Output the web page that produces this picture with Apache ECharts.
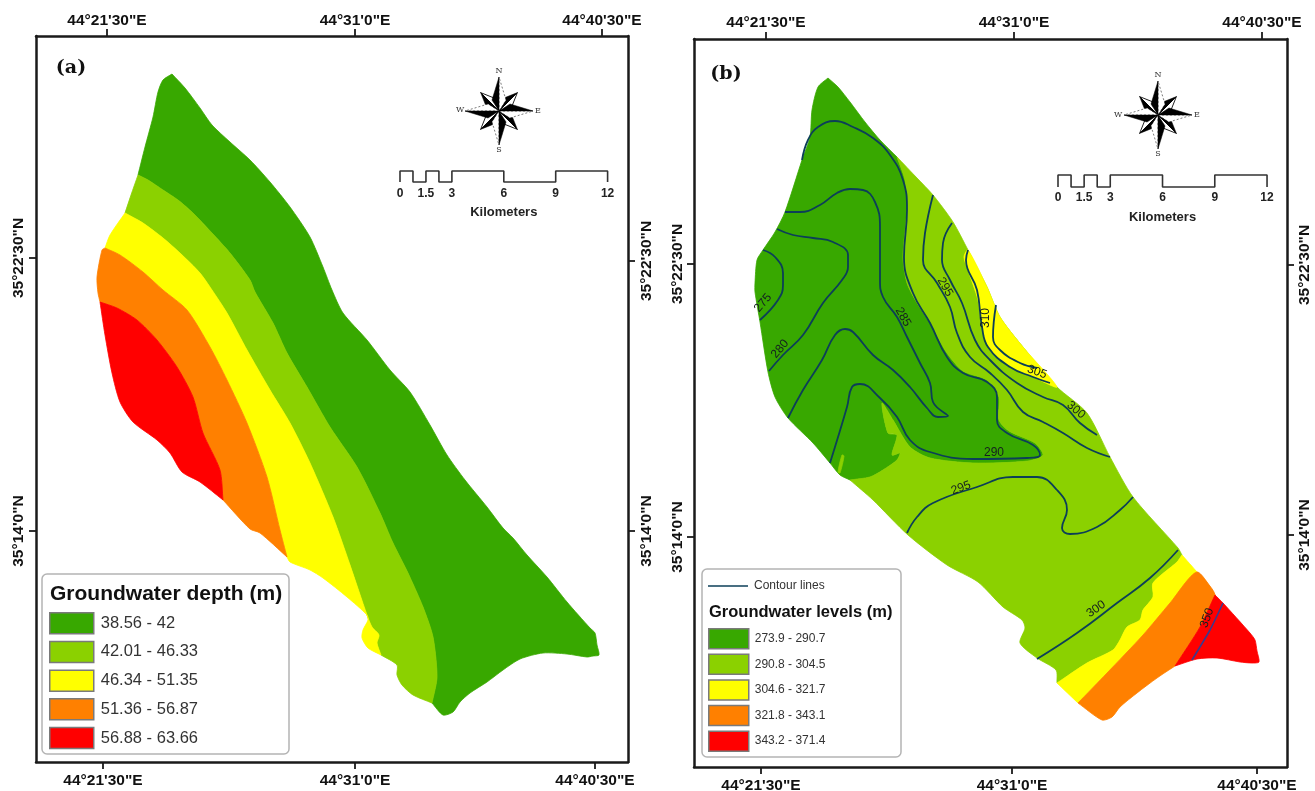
<!DOCTYPE html>
<html><head><meta charset="utf-8">
<style>html,body{margin:0;padding:0;background:#fff}#c{width:1315px;height:791px}</style>
<script src="https://cdn.jsdelivr.net/npm/echarts@6/dist/echarts.min.js"></script>
</head><body><div id="c"></div>
<script>
// Map units: one unit = one sheet unit of the printed map; axes carry the graticule labels.
const classColors = ['#38A800','#8BD100','#FFFF00','#FF8000','#FF0000'];
const depthClasses = ['38.56 - 42','42.01 - 46.33','46.34 - 51.35','51.36 - 56.87','56.88 - 63.66'];
const levelClasses = ['273.9 - 290.7','290.8 - 304.5','304.6 - 321.7','321.8 - 343.1','343.2 - 371.4'];
const lonLabels = ['44°21\'30"E','44°31\'0"E','44°40\'30"E'];
const latLabels = ['35°22\'30"N','35°14\'0"N'];
const scaleLabels = ['0','1.5','3','6','9','12'];
const scaleLabelKm = [0,1.5,3,6,9,12];
const scaleBarKm = [0,0,0.75,0.75,1.5,1.5,2.25,2.25,3,3,6,6,9,9,12,12];
const scaleBarUp = [0,1,1,0,0,1,1,0,0,1,1,0,0,1,1,0];

// Panel (a) graticule ticks
const aLonTop = [107,355,602], aLonBottom = [103,355,595], aLatLeft = [258,531], aLatRight = [261,531];
// Panel (b) graticule ticks
const bLonTop = [766,1014,1262], bLonBottom = [761,1012,1257], bLatLeft = [264,537], bLatRight = [265,535];

// Panel (a): study-area rim
const aRimNE = [[172,74],[185,88],[200,108],[212,125],[230,142],[250,160],[270,182],[290,207],[310,237],[323,267],[332,290],[343,313],[367,340],[390,370],[410,392],[430,425],[447,455],[465,480],[487,507],[503,528],[513,538],[527,555],[547,577],[567,602],[590,628],[595,633],[597,645],[599,655],[593,656],[587,657],[567,654],[543,653],[520,659],[503,670],[487,682],[470,693],[460,702],[453,712],[443,715],[432,703]];
const aRimNW = [[138,175],[145,147],[153,117],[158,92],[163,80],[172,74]];
const aRimLightS = [[432,703],[413,695],[402,685],[397,675],[397,665],[381,655]];
const aRimYellowS = [[381,655],[368,648],[362,638],[363,630],[368,620],[367,615],[347,597],[323,578],[310,570],[290,562],[287,557]];
const aRimOrangeS = [[287,557],[260,533],[250,529],[223,500]];
const aRimRedS = [[223,500],[200,482],[182,472],[170,453],[157,440],[133,422],[120,402],[112,373],[105,335],[100,302]];
const aRimOrangeW = [[100,302],[98,293],[97,277],[102,250],[105,248]];
const aRimYellowW = [[105,248],[110,235],[125,213]];
const aRimLightW = [[125,213],[131,195],[138,175]];
// Panel (a): class boundaries
const aEdgeDarkLight = [[138,175],[148,180],[163,190],[178,200],[193,213],[212,233],[230,253],[250,280],[255,292],[273,323],[287,353],[307,387],[330,427],[357,467],[380,513],[393,543],[408,573],[423,607],[433,637],[437,677],[432,703]];
const aEdgeLightYellow = [[125,213],[143,223],[163,238],[180,253],[200,273],[212,290],[227,313],[247,350],[270,390],[290,423],[310,463],[333,517],[350,565],[367,615],[372,627],[379,635],[377,643],[381,655]];
const aEdgeYellowOrange = [[105,248],[120,255],[143,272],[163,290],[187,310],[210,347],[227,380],[247,423],[267,477],[280,530],[287,557]];
const aEdgeOrangeRed = [[100,302],[117,308],[137,320],[157,340],[177,367],[193,397],[203,433],[220,470],[223,500]];

// Panel (b): study-area rim
const bRimNE = [[828,78],[838,87],[850,102],[865,122],[880,140],[897,157]];
const bRimLightE = [[897,157],[917,178],[933,195],[953,222],[968,250],[987,287],[1000,317],[1023,347],[1057,387],[1087,413],[1110,457],[1133,497],[1178,548],[1182,555]];
const bRimYellowE = [[1182,555],[1197,572]];
const bRimOrangeE = [[1197,572],[1215,595]];
const bRimRed = [[1215,595],[1223,603],[1250,633],[1255,640],[1257,651],[1259,662],[1252,663],[1240,662],[1217,658],[1197,659],[1175,666]];
const bRimOrangeS = [[1175,666],[1157,678],[1137,693],[1120,707],[1112,717],[1102,720],[1078,703]];
const bRimYellowS = [[1078,703],[1057,683]];
const bRimLightS = [[1057,683],[1056,670],[1037,658],[1020,643],[1025,628],[1022,620],[1003,607],[978,582],[947,565],[908,535],[873,500],[850,480]];
const bRimW = [[850,480],[840,475],[830,463],[813,443],[788,418],[775,397],[768,372],[760,322],[755,292],[755,283],[757,260],[763,250],[775,232],[785,212],[802,160],[810,137],[812,110],[818,87],[828,78]];
// Panel (b): class boundaries
const bEdgeDarkLight = [[897,157],[905,180],[907,210],[903,257],[907,283],[917,303],[930,323],[947,353],[963,371],[987,380],[999,397],[999,420],[1009,431],[1035,443],[1043,455],[1028,461],[973,463],[930,458],[910,447],[893,420],[882,403],[888,433],[897,435],[892,455],[900,453],[897,460],[883,470],[870,477],[850,480]];
const bEdgeLightYellow = [[1182,555],[1177,562],[1153,583],[1153,597],[1143,610],[1140,620],[1127,627],[1120,640],[1113,650],[1087,663],[1057,683]];
const bEdgeYellowOrange = [[1197,572],[1170,603],[1143,635],[1107,673],[1078,703]];
const bEdgeOrangeRed = [[1215,595],[1200,627],[1175,666]];
const bYellowPatch = [[968,250],[964,257],[968,270],[978,300],[982,327],[990,350],[1010,367],[1033,377],[1057,387],[1023,347],[1000,317],[987,287]];
const bLightSliver = [[842,455],[844,456],[840,473],[838,472]];

// Panel (b): contour lines
const contour275 = [[763,250],[775,257],[783,273],[783,285],[778,300],[760,320]];
const contour280 = [[777,229],[793,235],[813,238],[833,242],[848,255],[848,267],[842,280],[823,303],[803,335],[783,355],[769,371]];
const contour285 = [[785,212],[800,212],[820,205],[837,193],[850,189],[863,190],[875,202],[880,227],[880,257],[880,280],[883,297],[897,317],[907,337],[920,363],[930,383],[933,402],[948,416],[938,417],[927,408],[910,387],[893,370],[873,355],[853,332],[845,329],[835,335],[822,360],[803,390],[788,418]];
const contour290 = [[802,160],[808,140],[818,127],[835,121],[853,127],[873,138],[890,155],[903,180],[907,210],[904,257],[913,293],[930,323],[947,357],[963,373],[987,382],[997,397],[997,420],[1007,433],[1033,445],[1040,455],[1027,458],[973,459],[930,452],[910,440],[897,417],[880,398],[860,384],[852,387],[847,407],[830,463]];
const contour295N = [[933,195],[925,233],[923,260],[937,283],[950,307],[957,333],[970,357],[990,373],[1007,390],[1023,412],[1043,422],[1063,433],[1087,448],[1110,457]];
const contour300N = [[952,223],[943,243],[942,260],[950,280],[962,303],[975,340],[990,360],[1017,383],[1043,397],[1063,405],[1080,423],[1097,435]];
const contour310 = [[968,250],[966,260],[977,290],[982,327],[988,347],[1010,367],[1033,377],[1050,383]];
const contour305 = [[996,305],[993,337],[1000,350],[1020,363],[1037,368]];
const contour295S = [[907,533],[917,517],[933,503],[977,487],[1013,477],[1037,477],[1057,490],[1067,510],[1062,528],[1070,534],[1097,527],[1120,510],[1133,497]];
const contour300S = [[1178,550],[1150,578],[1117,603],[1077,633],[1037,659]];
const contour350 = [[1223,603],[1210,630],[1192,660]];
const contourLines = [contour275,contour280,contour285,contour290,contour295N,contour300N,contour310,contour305,contour295S,contour300S];
const contourText = [['275',763,303,50],['280',780,349,50],['285',903,317,-60],['295',945,287,-60],['310',986,318,90],['305',1037,372,-20],['300',1076,410,-40],['290',994,453,0],['295',961,488,20],['300',1096,609,35],['350',1207,618,70]];

const rev = a => a.slice().reverse();
const join = (...parts) => [].concat(...parts);

const aRings = [
  join(aRimNE, rev(aEdgeDarkLight), aRimNW),
  join(aEdgeDarkLight, aRimLightS, rev(aEdgeLightYellow), aRimLightW),
  join(aEdgeLightYellow, aRimYellowS, rev(aEdgeYellowOrange), aRimYellowW),
  join(aEdgeYellowOrange, aRimOrangeS, rev(aEdgeOrangeRed), aRimOrangeW),
  join(aEdgeOrangeRed, aRimRedS)
];
const bRings = [
  join(bRimNE, bEdgeDarkLight, bRimW),
  join(bRimLightE, bEdgeLightYellow, bRimLightS, rev(bEdgeDarkLight)),
  join(bEdgeLightYellow, rev(bRimYellowS), rev(bEdgeYellowOrange), rev(bRimYellowE)),
  join(bEdgeYellowOrange, rev(bRimOrangeS), rev(bEdgeOrangeRed), bRimOrangeE),
  join(bEdgeOrangeRed, rev(bRimRed))
];

function polygonSeries(name, ring, color, axis, z) {
  return {
    type:'custom', name, coordinateSystem:'cartesian2d', xAxisIndex:axis*2, yAxisIndex:axis*2,
    data:ring, silent:true, animation:false, clip:false, z:z||2,
    itemStyle:{color},
    renderItem(params, api) {
      if (params.dataIndex !== 0) return null;
      return {type:'polygon', shape:{points:ring.map(p=>api.coord(p)), smooth:0.25},
              style:{fill:color, stroke:color, lineWidth:0.8}};
    }
  };
}
function lineSeries(points, color, axis, width, smooth, name) {
  return {type:'line', name, data:points, xAxisIndex:axis*2, yAxisIndex:axis*2, showSymbol:false, symbol:'none',
    smooth, clip:false, silent:true, animation:false, z:3, itemStyle:{color},
    lineStyle:{color, width}};
}
function textSeries(items, axis, font) {
  return {type:'scatter', data:items.map(t=>({name:t[0], value:[t[1],t[2]],
      label:{show:true, position:'inside', formatter:'{b}', rotate:t[3]||0, textBorderWidth:0, textBorderColor:'transparent', opacity:1, ...font}})),
    xAxisIndex:axis*2, yAxisIndex:axis*2, symbolSize:0, itemStyle:{opacity:1}, silent:true, animation:false, clip:false, z:5};
}
function roseSeries(center, axis) {
  const rot = (p,a)=>[p[0]*Math.cos(a)-p[1]*Math.sin(a), p[0]*Math.sin(a)+p[1]*Math.cos(a)];
  return {type:'custom', coordinateSystem:'cartesian2d', xAxisIndex:axis*2, yAxisIndex:axis*2,
    data:[center], silent:true, animation:false, clip:false, z:4,
    renderItem(params, api) {
      const c = api.coord(center);
      const kids = [];
      const make=(a,r,s,h,dash)=>{
        const pts=q=>q.map(p=>{const v=rot(p,a);return [c[0]+v[0],c[1]+v[1]];});
        kids.push({type:'polygon',shape:{points:pts([[0,0],[0,-r],[s,-h]])},
          style:{fill:'#fff',stroke:'#222',lineWidth:dash?0.6:1,lineDash:dash?[2,2]:null}});
        kids.push({type:'polygon',shape:{points:pts([[0,0],[0,-r],[-s,-h]])},
          style:{fill:'#000',stroke:'#000',lineWidth:0.5}});
      };
      for(let k=0;k<4;k++) make(Math.PI/4+k*Math.PI/2,26,6,12,false);
      for(let k=0;k<4;k++) make(k*Math.PI/2,34,7,11,true);
      return {type:'group',children:kids};
    }};
}
function axes(gridIndex, xr, yr, xTop, xBottom, yLeft, yRight, m) {
  const line={show:true,onZero:false,lineStyle:{color:'#1a1a1a',width:2.5}};
  const font={color:'#111',fontFamily:'Liberation Sans',fontWeight:'bold',fontSize:15.5};
  const mk=(pos,vals,labels,isY,margin)=>({
    type:'value', gridIndex, position:pos, min:isY?yr[0]:xr[0], max:isY?yr[1]:xr[1], inverse:isY,
    splitLine:{show:false}, axisLine:line,
    axisTick:{show:true,length:7,inside:false,customValues:vals,lineStyle:{color:'#1a1a1a',width:1.8}},
    axisLabel:{show:true,customValues:vals,rotate:isY?90:0,margin,hideOverlap:false,
      formatter:v=>labels[vals.indexOf(v)]||'',...font}
  });
  return {x:[mk('bottom',xBottom,lonLabels,false,m[0]),mk('top',xTop,lonLabels,false,m[1])],
          y:[mk('left',yLeft,latLabels,true,m[2]),mk('right',yRight,latLabels,true,m[3])]};
}
const ax0 = axes(0,[36,628],[36,762],aLonTop,aLonBottom,aLatLeft,aLatRight,[11,7,9,11]);
const ax1 = axes(1,[694,1287],[39,767],bLonTop,bLonBottom,bLatLeft,bLatRight,[11,8,8,10]);

const series = [];
aRings.forEach((r,i)=>series.push(polygonSeries(depthClasses[i],r,classColors[i],0)));
bRings.forEach((r,i)=>series.push(polygonSeries(levelClasses[i],r,classColors[i],1)));
series.push(polygonSeries('upper yellow',bYellowPatch,classColors[2],1,2));
series.push(polygonSeries('sliver',bLightSliver,classColors[1],1,2));
contourLines.forEach(c=>series.push(lineSeries(c,'#0C3F58',1,1.8,0.45,'Contour lines')));
series.push(lineSeries(contour350,'#3B3A8F',1,1.6,0.2,'Contour 350'));
const labelFont={fontFamily:'Liberation Sans',fontSize:12,color:'#14201f'};
series.push(textSeries(contourText.map(t=>[t[0],t[1],t[2],t[3]]),1,labelFont));

// scale bars, built from km
function scaleBar(x0,perKm,yUp,yLow,yText,yTitle,axis){
  const pts=scaleBarKm.map((k,i)=>[x0+k*perKm, scaleBarUp[i]?yUp:yLow]);
  series.push(lineSeries(pts,'#333',axis,1.6,false,'scale'+axis));
  const f={fontFamily:'Liberation Sans',fontWeight:'bold',fontSize:12,color:'#222'};
  series.push(textSeries(scaleLabels.map((s,i)=>[s,x0+scaleLabelKm[i]*perKm,yText]),axis,f));
  series.push(textSeries([['Kilometers',x0+6*perKm,yTitle]],axis,{...f,fontSize:13}));
}
scaleBar(400,17.3,171,182,194,212,0);
scaleBar(1058,17.42,175,187,198,217,1);

// roses
series.push(roseSeries([499,111],0));
series.push(roseSeries([1158,115],1));
const roseFont={fontFamily:'DejaVu Serif',fontSize:8,color:'#333'};
series.push(textSeries([['N',499,71],['S',499,150],['W',460,110],['E',538,111]],0,roseFont));
series.push(textSeries([['N',1158,75],['S',1158,154],['W',1118,115],['E',1197,115]],1,roseFont));
// panel letters
const letterFont={fontFamily:'DejaVu Serif',fontWeight:'bold',fontSize:19,color:'#111'};
series.push(textSeries([['(a)',71,68]],0,letterFont));
series.push(textSeries([['(b)',726,74]],1,letterFont));

const swatchBorder={borderColor:'#7a7a7a',borderWidth:1.5};
const option={
  backgroundColor:'#fff',
  animation:false,
  grid:[{left:36,top:36,width:592,height:726,containLabel:false,outerBoundsMode:'none',show:false},
        {left:694,top:39,width:593,height:728,containLabel:false,outerBoundsMode:'none',show:false}],
  xAxis:[...ax0.x,...ax1.x],
  yAxis:[...ax0.y,...ax1.y],
  series,
  title:[
    {text:'Groundwater depth (m)',left:50,top:584,padding:0,textStyle:{fontFamily:'Liberation Sans',fontWeight:'bold',fontSize:21,color:'#111'}},
    {text:'Groundwater levels (m)',left:709,top:604,padding:0,textStyle:{fontFamily:'Liberation Sans',fontWeight:'bold',fontSize:16.5,color:'#111'}}
  ],
  legend:[
    {data:depthClasses.map(n=>({name:n,icon:'rect'})),orient:'vertical',left:49,top:612,padding:0,itemWidth:44,itemHeight:21,itemGap:6.2,
     selectedMode:false,itemStyle:swatchBorder,textStyle:{fontFamily:'Liberation Sans',fontSize:16.5,color:'#333',padding:[0,0,0,2]}},
    {data:levelClasses.map(n=>({name:n,icon:'rect'})),orient:'vertical',left:708,top:628,padding:0,itemWidth:40,itemHeight:20,itemGap:4.1,
     selectedMode:false,itemStyle:swatchBorder,textStyle:{fontFamily:'Liberation Sans',fontSize:12,color:'#333',padding:[0,0,0,1]}},
    {data:[{name:'Contour lines',icon:'rect'}],orient:'vertical',left:708,top:580,padding:0,itemWidth:40,itemHeight:1.5,
     selectedMode:false,textStyle:{fontFamily:'Liberation Sans',fontSize:12,color:'#333',padding:[0,0,0,1]}}
  ],
  graphic:[
    {type:'rect',z:3,shape:{x:42,y:574,width:247,height:180,r:5},style:{fill:'#fff',stroke:'#b4b4b4',lineWidth:1.5}},
    {type:'rect',z:3,shape:{x:702,y:569,width:199,height:188,r:5},style:{fill:'#fff',stroke:'#b4b4b4',lineWidth:1.5}}
  ]
};
const chart=echarts.init(document.getElementById('c'),null,{renderer:'canvas'});
chart.setOption(option);
</script></body></html>
